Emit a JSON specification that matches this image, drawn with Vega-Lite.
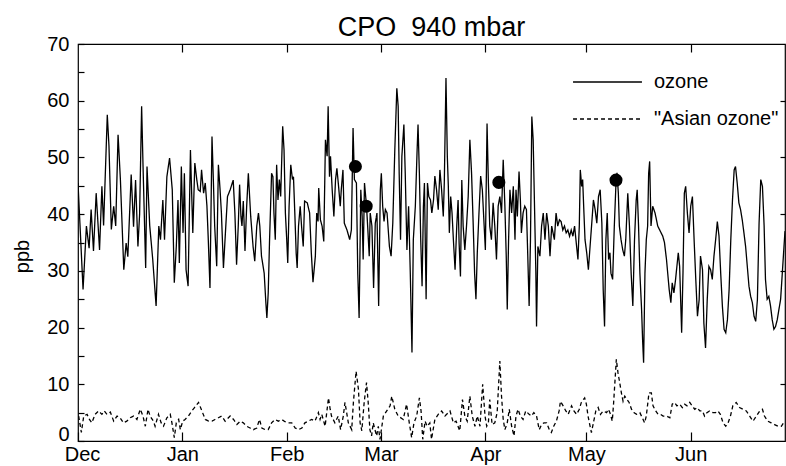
{
  "$schema": "https://vega.github.io/schema/vega-lite/v6.json",
  "width": 707,
  "height": 397,
  "autosize": "none",
  "padding": {"left": 78, "top": 44, "right": 1, "bottom": 25},
  "title": {"text": "CPO\u00a0\u00a0940 mbar", "font": "Liberation Sans", "fontSize": 27, "fontWeight": "normal", "color": "black", "anchor": "middle", "frame": "group", "baseline": "alphabetic", "offset": -29},
  "config": {
    "view": {"stroke": "black", "strokeWidth": 1.2},
    "axis": {"domain": false, "grid": false, "labelFont": "Liberation Sans", "labelFontSize": 20, "labelColor": "black", "tickColor": "black", "tickWidth": 1.2, "titleFont": "Liberation Sans", "titleFontSize": 20, "titleFontWeight": "normal", "titleColor": "black"},
    "legend": {"labelFont": "Liberation Sans", "labelFontSize": 20, "labelColor": "black"}
  },
  "datasets": {
    "lines": [
      {"series":"ozone","day":0.0,"ppb":45.5},{"series":"ozone","day":1.5,"ppb":26.7},{"series":"ozone","day":2.5,"ppb":37.9},{"series":"ozone","day":3.3,"ppb":34},{"series":"ozone","day":3.9,"ppb":40.8},{"series":"ozone","day":4.6,"ppb":33.5},{"series":"ozone","day":5.4,"ppb":43.7},{"series":"ozone","day":6.4,"ppb":33.7},{"series":"ozone","day":7.1,"ppb":44.9},{"series":"ozone","day":7.6,"ppb":38},{"series":"ozone","day":8.7,"ppb":57.5},{"series":"ozone","day":9.2,"ppb":52},{"series":"ozone","day":9.9,"ppb":37.3},{"series":"ozone","day":10.6,"ppb":41.4},{"series":"ozone","day":11.2,"ppb":37.9},{"series":"ozone","day":11.9,"ppb":54},{"series":"ozone","day":12.6,"ppb":46},{"series":"ozone","day":13.6,"ppb":30.2},{"series":"ozone","day":14.3,"ppb":34.9},{"series":"ozone","day":14.8,"ppb":32.5},{"series":"ozone","day":15.8,"ppb":47},{"series":"ozone","day":16.5,"ppb":37.8},{"series":"ozone","day":17.1,"ppb":46},{"series":"ozone","day":17.8,"ppb":34.3},{"series":"ozone","day":18.3,"ppb":40},{"series":"ozone","day":18.9,"ppb":59},{"series":"ozone","day":19.3,"ppb":48.9},{"series":"ozone","day":20.1,"ppb":30.5},{"series":"ozone","day":20.5,"ppb":48.4},{"series":"ozone","day":21.3,"ppb":38},{"series":"ozone","day":22.2,"ppb":32},{"series":"ozone","day":23.2,"ppb":23.8},{"series":"ozone","day":24.0,"ppb":37.9},{"series":"ozone","day":24.5,"ppb":35.5},{"series":"ozone","day":25.2,"ppb":42.5},{"series":"ozone","day":25.7,"ppb":35.5},{"series":"ozone","day":26.4,"ppb":46.6},{"series":"ozone","day":27.2,"ppb":49.9},{"series":"ozone","day":28.0,"ppb":44.3},{"series":"ozone","day":28.6,"ppb":27.9},{"series":"ozone","day":29.2,"ppb":34.3},{"series":"ozone","day":29.7,"ppb":42.5},{"series":"ozone","day":30.1,"ppb":31.4},{"series":"ozone","day":30.7,"ppb":48.4},{"series":"ozone","day":31.2,"ppb":36.7},{"series":"ozone","day":31.6,"ppb":47.2},{"series":"ozone","day":32.1,"ppb":30.2},{"series":"ozone","day":32.7,"ppb":27.3},{"series":"ozone","day":33.4,"ppb":51.3},{"series":"ozone","day":34.1,"ppb":36.7},{"series":"ozone","day":34.7,"ppb":49},{"series":"ozone","day":35.3,"ppb":46},{"series":"ozone","day":35.7,"ppb":44.3},{"series":"ozone","day":36.3,"ppb":44},{"series":"ozone","day":36.7,"ppb":47.8},{"series":"ozone","day":37.3,"ppb":43.7},{"series":"ozone","day":37.8,"ppb":45.5},{"series":"ozone","day":38.3,"ppb":41.4},{"series":"ozone","day":38.7,"ppb":35.5},{"series":"ozone","day":39.2,"ppb":27},{"series":"ozone","day":39.8,"ppb":53.7},{"series":"ozone","day":40.2,"ppb":46.1},{"series":"ozone","day":40.6,"ppb":37.9},{"series":"ozone","day":41.2,"ppb":30.8},{"series":"ozone","day":41.7,"ppb":48.7},{"series":"ozone","day":42.2,"ppb":44.3},{"series":"ozone","day":42.6,"ppb":40.2},{"series":"ozone","day":43.2,"ppb":30.5},{"series":"ozone","day":43.9,"ppb":37.9},{"series":"ozone","day":44.4,"ppb":43.1},{"series":"ozone","day":45.2,"ppb":44.3},{"series":"ozone","day":46.1,"ppb":46},{"series":"ozone","day":46.6,"ppb":40.2},{"series":"ozone","day":47.1,"ppb":31.1},{"series":"ozone","day":47.6,"ppb":37.9},{"series":"ozone","day":48.0,"ppb":45.2},{"series":"ozone","day":48.4,"ppb":39.6},{"series":"ozone","day":48.7,"ppb":37.9},{"series":"ozone","day":49.1,"ppb":42.3},{"series":"ozone","day":49.3,"ppb":39},{"series":"ozone","day":49.6,"ppb":33.5},{"series":"ozone","day":50.1,"ppb":41.4},{"series":"ozone","day":50.6,"ppb":47.2},{"series":"ozone","day":51.3,"ppb":39.6},{"series":"ozone","day":52.0,"ppb":34.3},{"series":"ozone","day":52.5,"ppb":31.7},{"series":"ozone","day":53.1,"ppb":37.9},{"series":"ozone","day":53.6,"ppb":40.2},{"series":"ozone","day":54.0,"ppb":37.9},{"series":"ozone","day":54.5,"ppb":32.6},{"series":"ozone","day":55.3,"ppb":29.6},{"series":"ozone","day":55.8,"ppb":24.4},{"series":"ozone","day":56.1,"ppb":21.7},{"series":"ozone","day":56.5,"ppb":26.1},{"series":"ozone","day":56.9,"ppb":35.5},{"series":"ozone","day":57.5,"ppb":47.2},{"series":"ozone","day":57.9,"ppb":46.6},{"series":"ozone","day":58.2,"ppb":40.2},{"series":"ozone","day":58.6,"ppb":35.5},{"series":"ozone","day":59.0,"ppb":48.7},{"series":"ozone","day":59.4,"ppb":42.5},{"series":"ozone","day":59.8,"ppb":46.1},{"series":"ozone","day":60.2,"ppb":43.1},{"series":"ozone","day":60.8,"ppb":55.5},{"series":"ozone","day":61.2,"ppb":51.3},{"series":"ozone","day":61.6,"ppb":40.2},{"series":"ozone","day":62.0,"ppb":35.5},{"series":"ozone","day":62.3,"ppb":31.4},{"series":"ozone","day":62.7,"ppb":41.4},{"series":"ozone","day":63.2,"ppb":48.7},{"series":"ozone","day":63.7,"ppb":46.1},{"series":"ozone","day":64.0,"ppb":46.6},{"series":"ozone","day":64.4,"ppb":40.2},{"series":"ozone","day":64.8,"ppb":33.2},{"series":"ozone","day":65.1,"ppb":30.5},{"series":"ozone","day":65.5,"ppb":37.9},{"series":"ozone","day":66.0,"ppb":41.4},{"series":"ozone","day":66.4,"ppb":37.9},{"series":"ozone","day":66.9,"ppb":34.3},{"series":"ozone","day":67.3,"ppb":42.3},{"series":"ozone","day":68.1,"ppb":42},{"series":"ozone","day":68.8,"ppb":40.2},{"series":"ozone","day":69.3,"ppb":33.2},{"series":"ozone","day":69.8,"ppb":28},{"series":"ozone","day":70.5,"ppb":32.6},{"series":"ozone","day":70.9,"ppb":40.2},{"series":"ozone","day":71.3,"ppb":38.7},{"series":"ozone","day":71.5,"ppb":44.6},{"series":"ozone","day":72.0,"ppb":39},{"series":"ozone","day":72.5,"ppb":37.9},{"series":"ozone","day":73.0,"ppb":35.2},{"series":"ozone","day":73.5,"ppb":53.1},{"series":"ozone","day":74.0,"ppb":50.2},{"series":"ozone","day":74.3,"ppb":59},{"series":"ozone","day":74.7,"ppb":46.6},{"series":"ozone","day":75.0,"ppb":50.2},{"series":"ozone","day":75.5,"ppb":44.3},{"series":"ozone","day":76.0,"ppb":39.6},{"series":"ozone","day":76.5,"ppb":46.1},{"series":"ozone","day":76.9,"ppb":48.1},{"series":"ozone","day":77.4,"ppb":44.9},{"series":"ozone","day":77.9,"ppb":41.4},{"series":"ozone","day":78.2,"ppb":44.3},{"series":"ozone","day":78.7,"ppb":47.8},{"series":"ozone","day":79.1,"ppb":38.4},{"series":"ozone","day":79.9,"ppb":37.2},{"series":"ozone","day":80.7,"ppb":35.5},{"series":"ozone","day":81.2,"ppb":37.2},{"series":"ozone","day":81.7,"ppb":55.2},{"series":"ozone","day":82.1,"ppb":46.1},{"series":"ozone","day":82.7,"ppb":45.5},{"series":"ozone","day":83.1,"ppb":29.6},{"series":"ozone","day":83.5,"ppb":21.7},{"series":"ozone","day":84.0,"ppb":44.3},{"series":"ozone","day":84.4,"ppb":39.6},{"series":"ozone","day":84.7,"ppb":32},{"series":"ozone","day":85.1,"ppb":45.5},{"series":"ozone","day":85.7,"ppb":41.4},{"series":"ozone","day":86.1,"ppb":37.2},{"series":"ozone","day":86.5,"ppb":32.6},{"series":"ozone","day":86.8,"ppb":40.2},{"series":"ozone","day":87.3,"ppb":37.9},{"series":"ozone","day":87.8,"ppb":27},{"series":"ozone","day":88.3,"ppb":38.4},{"series":"ozone","day":88.8,"ppb":40.2},{"series":"ozone","day":89.3,"ppb":23.8},{"series":"ozone","day":89.8,"ppb":44.3},{"series":"ozone","day":90.1,"ppb":47.2},{"series":"ozone","day":90.5,"ppb":41.4},{"series":"ozone","day":90.9,"ppb":38.7},{"series":"ozone","day":91.3,"ppb":40.8},{"series":"ozone","day":91.8,"ppb":40.2},{"series":"ozone","day":92.5,"ppb":34.3},{"series":"ozone","day":93.0,"ppb":32.6},{"series":"ozone","day":93.5,"ppb":38.4},{"series":"ozone","day":94.1,"ppb":51.3},{"series":"ozone","day":94.7,"ppb":62.2},{"series":"ozone","day":95.1,"ppb":59},{"series":"ozone","day":95.4,"ppb":47.2},{"series":"ozone","day":95.8,"ppb":35.5},{"series":"ozone","day":96.2,"ppb":50.2},{"series":"ozone","day":96.8,"ppb":55.8},{"series":"ozone","day":97.2,"ppb":47.2},{"series":"ozone","day":97.7,"ppb":33.7},{"series":"ozone","day":98.2,"ppb":41.4},{"series":"ozone","day":98.7,"ppb":29.6},{"series":"ozone","day":99.2,"ppb":15.6},{"series":"ozone","day":99.6,"ppb":35.5},{"series":"ozone","day":100.2,"ppb":41.4},{"series":"ozone","day":100.7,"ppb":50.8},{"series":"ozone","day":101.0,"ppb":55.8},{"series":"ozone","day":101.4,"ppb":47.2},{"series":"ozone","day":101.8,"ppb":35.5},{"series":"ozone","day":102.2,"ppb":27.3},{"series":"ozone","day":102.6,"ppb":41.4},{"series":"ozone","day":102.9,"ppb":45.5},{"series":"ozone","day":103.4,"ppb":25},{"series":"ozone","day":103.8,"ppb":45.5},{"series":"ozone","day":104.2,"ppb":43.1},{"series":"ozone","day":104.7,"ppb":42.5},{"series":"ozone","day":105.1,"ppb":40.2},{"series":"ozone","day":105.6,"ppb":42.5},{"series":"ozone","day":106.0,"ppb":46.7},{"series":"ozone","day":106.5,"ppb":44.3},{"series":"ozone","day":107.0,"ppb":40.8},{"series":"ozone","day":107.5,"ppb":47.8},{"series":"ozone","day":108.0,"ppb":44.3},{"series":"ozone","day":108.5,"ppb":39.6},{"series":"ozone","day":108.8,"ppb":45.5},{"series":"ozone","day":109.3,"ppb":64},{"series":"ozone","day":109.7,"ppb":50.2},{"series":"ozone","day":110.0,"ppb":44.9},{"series":"ozone","day":110.3,"ppb":36.7},{"series":"ozone","day":110.7,"ppb":43.1},{"series":"ozone","day":111.1,"ppb":40.2},{"series":"ozone","day":111.5,"ppb":35.5},{"series":"ozone","day":112.0,"ppb":30.2},{"series":"ozone","day":112.5,"ppb":37.9},{"series":"ozone","day":112.9,"ppb":42.5},{"series":"ozone","day":113.2,"ppb":34.9},{"series":"ozone","day":113.6,"ppb":29},{"series":"ozone","day":114.0,"ppb":46},{"series":"ozone","day":114.4,"ppb":37.9},{"series":"ozone","day":114.9,"ppb":33.7},{"series":"ozone","day":115.4,"ppb":37.9},{"series":"ozone","day":115.9,"ppb":43.1},{"series":"ozone","day":116.4,"ppb":53.1},{"series":"ozone","day":116.9,"ppb":47.2},{"series":"ozone","day":117.4,"ppb":37.9},{"series":"ozone","day":117.8,"ppb":29.6},{"series":"ozone","day":118.2,"ppb":25},{"series":"ozone","day":118.6,"ppb":33.2},{"series":"ozone","day":119.1,"ppb":40.2},{"series":"ozone","day":119.6,"ppb":46.7},{"series":"ozone","day":120.1,"ppb":44.3},{"series":"ozone","day":120.6,"ppb":38.4},{"series":"ozone","day":121.0,"ppb":33.7},{"series":"ozone","day":121.5,"ppb":56},{"series":"ozone","day":121.9,"ppb":45.5},{"series":"ozone","day":122.3,"ppb":37.9},{"series":"ozone","day":122.8,"ppb":35.5},{"series":"ozone","day":123.3,"ppb":42},{"series":"ozone","day":123.8,"ppb":37.9},{"series":"ozone","day":124.3,"ppb":32},{"series":"ozone","day":124.8,"ppb":41.4},{"series":"ozone","day":125.3,"ppb":43.1},{"series":"ozone","day":125.8,"ppb":40.2},{"series":"ozone","day":126.3,"ppb":49.6},{"series":"ozone","day":126.8,"ppb":41.4},{"series":"ozone","day":127.2,"ppb":32.6},{"series":"ozone","day":127.5,"ppb":23.2},{"series":"ozone","day":127.9,"ppb":35.5},{"series":"ozone","day":128.3,"ppb":44.3},{"series":"ozone","day":128.8,"ppb":40.2},{"series":"ozone","day":129.3,"ppb":44.9},{"series":"ozone","day":129.8,"ppb":35.5},{"series":"ozone","day":130.1,"ppb":44.3},{"series":"ozone","day":130.5,"ppb":39.6},{"series":"ozone","day":131.0,"ppb":47.5},{"series":"ozone","day":131.4,"ppb":42.5},{"series":"ozone","day":131.7,"ppb":36.7},{"series":"ozone","day":132.2,"ppb":40.2},{"series":"ozone","day":132.7,"ppb":41.4},{"series":"ozone","day":133.2,"ppb":40.8},{"series":"ozone","day":133.6,"ppb":32.6},{"series":"ozone","day":134.0,"ppb":23.8},{"series":"ozone","day":134.4,"ppb":35.5},{"series":"ozone","day":134.8,"ppb":57.2},{"series":"ozone","day":135.2,"ppb":53.1},{"series":"ozone","day":135.6,"ppb":41.4},{"series":"ozone","day":136.0,"ppb":29.6},{"series":"ozone","day":136.2,"ppb":20.2},{"series":"ozone","day":136.6,"ppb":34.3},{"series":"ozone","day":137.2,"ppb":32.6},{"series":"ozone","day":137.7,"ppb":37.9},{"series":"ozone","day":138.2,"ppb":40.2},{"series":"ozone","day":138.7,"ppb":35.5},{"series":"ozone","day":139.2,"ppb":40.2},{"series":"ozone","day":139.7,"ppb":37.9},{"series":"ozone","day":140.2,"ppb":32.6},{"series":"ozone","day":140.7,"ppb":37.9},{"series":"ozone","day":141.5,"ppb":35.5},{"series":"ozone","day":142.0,"ppb":40.2},{"series":"ozone","day":142.5,"ppb":37.9},{"series":"ozone","day":143.0,"ppb":39},{"series":"ozone","day":143.5,"ppb":38.7},{"series":"ozone","day":144.0,"ppb":37.2},{"series":"ozone","day":144.5,"ppb":37.9},{"series":"ozone","day":145.0,"ppb":36.7},{"series":"ozone","day":145.5,"ppb":37.2},{"series":"ozone","day":146.0,"ppb":36.1},{"series":"ozone","day":146.5,"ppb":37.2},{"series":"ozone","day":147.0,"ppb":36.1},{"series":"ozone","day":147.5,"ppb":37.9},{"series":"ozone","day":148.0,"ppb":34.9},{"series":"ozone","day":148.5,"ppb":32},{"series":"ozone","day":148.9,"ppb":37.9},{"series":"ozone","day":149.2,"ppb":47.8},{"series":"ozone","day":149.6,"ppb":44.9},{"series":"ozone","day":149.9,"ppb":46.1},{"series":"ozone","day":150.2,"ppb":41.4},{"series":"ozone","day":150.6,"ppb":35.5},{"series":"ozone","day":151.1,"ppb":33.2},{"series":"ozone","day":151.6,"ppb":30.2},{"series":"ozone","day":152.1,"ppb":34.3},{"series":"ozone","day":152.6,"ppb":38.4},{"series":"ozone","day":153.1,"ppb":42.5},{"series":"ozone","day":153.6,"ppb":40.8},{"series":"ozone","day":154.1,"ppb":38.4},{"series":"ozone","day":154.6,"ppb":43.1},{"series":"ozone","day":155.1,"ppb":44.3},{"series":"ozone","day":155.6,"ppb":38.4},{"series":"ozone","day":156.0,"ppb":26.7},{"series":"ozone","day":156.4,"ppb":20.2},{"series":"ozone","day":156.8,"ppb":35.5},{"series":"ozone","day":157.2,"ppb":40.2},{"series":"ozone","day":157.6,"ppb":32},{"series":"ozone","day":158.0,"ppb":33.2},{"series":"ozone","day":158.3,"ppb":29.6},{"series":"ozone","day":158.8,"ppb":28.5},{"series":"ozone","day":159.3,"ppb":37.9},{"series":"ozone","day":159.8,"ppb":45.5},{"series":"ozone","day":160.1,"ppb":47.3},{"series":"ozone","day":160.5,"ppb":43.7},{"series":"ozone","day":160.8,"ppb":37.9},{"series":"ozone","day":161.3,"ppb":35.5},{"series":"ozone","day":161.8,"ppb":33.7},{"series":"ozone","day":162.3,"ppb":32.6},{"series":"ozone","day":162.7,"ppb":35.5},{"series":"ozone","day":163.3,"ppb":43.7},{"series":"ozone","day":163.8,"ppb":37.9},{"series":"ozone","day":164.3,"ppb":29.6},{"series":"ozone","day":164.8,"ppb":23.8},{"series":"ozone","day":165.3,"ppb":35.5},{"series":"ozone","day":165.8,"ppb":42.5},{"series":"ozone","day":166.1,"ppb":44.3},{"series":"ozone","day":166.5,"ppb":37.9},{"series":"ozone","day":166.9,"ppb":29.6},{"series":"ozone","day":167.4,"ppb":23.2},{"series":"ozone","day":167.7,"ppb":17.9},{"series":"ozone","day":168.0,"ppb":13.8},{"series":"ozone","day":168.4,"ppb":29.6},{"series":"ozone","day":168.8,"ppb":35.5},{"series":"ozone","day":169.2,"ppb":37.9},{"series":"ozone","day":169.5,"ppb":47.2},{"series":"ozone","day":169.8,"ppb":49.3},{"series":"ozone","day":170.2,"ppb":37.9},{"series":"ozone","day":170.7,"ppb":41.4},{"series":"ozone","day":171.4,"ppb":40.2},{"series":"ozone","day":172.2,"ppb":37.9},{"series":"ozone","day":173.2,"ppb":36.7},{"series":"ozone","day":173.7,"ppb":36.1},{"series":"ozone","day":174.2,"ppb":35},{"series":"ozone","day":174.8,"ppb":32},{"series":"ozone","day":175.6,"ppb":26.7},{"series":"ozone","day":176.1,"ppb":24.4},{"series":"ozone","day":176.5,"ppb":27.9},{"series":"ozone","day":177.0,"ppb":26.1},{"series":"ozone","day":177.5,"ppb":28.5},{"series":"ozone","day":178.3,"ppb":33.2},{"series":"ozone","day":178.7,"ppb":30.8},{"series":"ozone","day":179.3,"ppb":19.1},{"series":"ozone","day":179.7,"ppb":29.6},{"series":"ozone","day":180.1,"ppb":43.7},{"series":"ozone","day":180.5,"ppb":44.9},{"series":"ozone","day":181.0,"ppb":40.2},{"series":"ozone","day":181.5,"ppb":36.7},{"series":"ozone","day":182.0,"ppb":41.4},{"series":"ozone","day":182.5,"ppb":43.1},{"series":"ozone","day":183.0,"ppb":35.5},{"series":"ozone","day":183.5,"ppb":28.5},{"series":"ozone","day":184.0,"ppb":22},{"series":"ozone","day":184.5,"ppb":24.9},{"series":"ozone","day":184.9,"ppb":32.6},{"series":"ozone","day":185.5,"ppb":30.2},{"series":"ozone","day":185.9,"ppb":20.8},{"series":"ozone","day":186.4,"ppb":16.4},{"series":"ozone","day":186.9,"ppb":24.9},{"series":"ozone","day":187.4,"ppb":30.8},{"series":"ozone","day":187.9,"ppb":30.2},{"series":"ozone","day":188.4,"ppb":28.5},{"series":"ozone","day":188.9,"ppb":32.6},{"series":"ozone","day":189.4,"ppb":35.5},{"series":"ozone","day":189.9,"ppb":38.7},{"series":"ozone","day":190.4,"ppb":36.1},{"series":"ozone","day":190.9,"ppb":29.6},{"series":"ozone","day":191.4,"ppb":23.8},{"series":"ozone","day":191.9,"ppb":19.7},{"series":"ozone","day":192.4,"ppb":19.1},{"series":"ozone","day":192.9,"ppb":21.4},{"series":"ozone","day":193.4,"ppb":26.7},{"series":"ozone","day":193.9,"ppb":35.5},{"series":"ozone","day":194.4,"ppb":42.5},{"series":"ozone","day":194.9,"ppb":47.8},{"series":"ozone","day":195.3,"ppb":48.4},{"series":"ozone","day":195.8,"ppb":45.5},{"series":"ozone","day":196.3,"ppb":42},{"series":"ozone","day":196.8,"ppb":40.8},{"series":"ozone","day":197.3,"ppb":39},{"series":"ozone","day":197.8,"ppb":36.7},{"series":"ozone","day":198.3,"ppb":34.3},{"series":"ozone","day":198.8,"ppb":30.8},{"series":"ozone","day":199.3,"ppb":27.3},{"series":"ozone","day":199.8,"ppb":25.5},{"series":"ozone","day":200.3,"ppb":24.4},{"series":"ozone","day":200.8,"ppb":22},{"series":"ozone","day":201.3,"ppb":21.1},{"series":"ozone","day":201.8,"ppb":24.9},{"series":"ozone","day":202.3,"ppb":38.4},{"series":"ozone","day":202.8,"ppb":46.1},{"series":"ozone","day":203.3,"ppb":44.9},{"series":"ozone","day":203.8,"ppb":37.9},{"series":"ozone","day":204.2,"ppb":28.5},{"series":"ozone","day":204.7,"ppb":25},{"series":"ozone","day":205.2,"ppb":25.5},{"series":"ozone","day":205.7,"ppb":23.8},{"series":"ozone","day":206.2,"ppb":21.4},{"series":"ozone","day":206.7,"ppb":19.7},{"series":"ozone","day":207.2,"ppb":20.2},{"series":"ozone","day":207.7,"ppb":21.4},{"series":"ozone","day":208.2,"ppb":23.2},{"series":"ozone","day":208.7,"ppb":25},{"series":"ozone","day":209.2,"ppb":29.6},{"series":"ozone","day":209.7,"ppb":34.3},{"series":"ozone","day":210.0,"ppb":37},
      {"series":"\"Asian ozone\"","day":0.2,"ppb":4.4},{"series":"\"Asian ozone\"","day":1.0,"ppb":1.5},{"series":"\"Asian ozone\"","day":1.7,"ppb":4.4},{"series":"\"Asian ozone\"","day":2.7,"ppb":4.7},{"series":"\"Asian ozone\"","day":3.4,"ppb":3.8},{"series":"\"Asian ozone\"","day":4.1,"ppb":3.2},{"series":"\"Asian ozone\"","day":5.1,"ppb":4.7},{"series":"\"Asian ozone\"","day":6.1,"ppb":5.3},{"series":"\"Asian ozone\"","day":7.1,"ppb":4.7},{"series":"\"Asian ozone\"","day":7.8,"ppb":5.3},{"series":"\"Asian ozone\"","day":8.6,"ppb":4.7},{"series":"\"Asian ozone\"","day":9.6,"ppb":5.1},{"series":"\"Asian ozone\"","day":10.6,"ppb":3.5},{"series":"\"Asian ozone\"","day":11.6,"ppb":4.4},{"series":"\"Asian ozone\"","day":12.5,"ppb":4.1},{"series":"\"Asian ozone\"","day":13.5,"ppb":3.2},{"series":"\"Asian ozone\"","day":14.5,"ppb":3.5},{"series":"\"Asian ozone\"","day":15.5,"ppb":4.1},{"series":"\"Asian ozone\"","day":16.5,"ppb":4.4},{"series":"\"Asian ozone\"","day":17.5,"ppb":3.8},{"series":"\"Asian ozone\"","day":18.5,"ppb":5.6},{"series":"\"Asian ozone\"","day":19.3,"ppb":4.4},{"series":"\"Asian ozone\"","day":20.0,"ppb":2.6},{"series":"\"Asian ozone\"","day":20.8,"ppb":5.6},{"series":"\"Asian ozone\"","day":21.4,"ppb":4.4},{"series":"\"Asian ozone\"","day":22.4,"ppb":3.5},{"series":"\"Asian ozone\"","day":22.9,"ppb":2.6},{"series":"\"Asian ozone\"","day":23.9,"ppb":4.7},{"series":"\"Asian ozone\"","day":24.7,"ppb":3.2},{"series":"\"Asian ozone\"","day":25.4,"ppb":2.6},{"series":"\"Asian ozone\"","day":26.4,"ppb":4.1},{"series":"\"Asian ozone\"","day":27.4,"ppb":4.7},{"series":"\"Asian ozone\"","day":27.9,"ppb":3.2},{"series":"\"Asian ozone\"","day":28.6,"ppb":0.6},{"series":"\"Asian ozone\"","day":29.2,"ppb":3.2},{"series":"\"Asian ozone\"","day":29.9,"ppb":3.8},{"series":"\"Asian ozone\"","day":30.4,"ppb":2.0},{"series":"\"Asian ozone\"","day":31.1,"ppb":3.5},{"series":"\"Asian ozone\"","day":31.8,"ppb":3.8},{"series":"\"Asian ozone\"","day":32.8,"ppb":4.4},{"series":"\"Asian ozone\"","day":33.8,"ppb":5.3},{"series":"\"Asian ozone\"","day":34.6,"ppb":5.9},{"series":"\"Asian ozone\"","day":35.8,"ppb":6.8},{"series":"\"Asian ozone\"","day":36.8,"ppb":5.3},{"series":"\"Asian ozone\"","day":37.8,"ppb":3.8},{"series":"\"Asian ozone\"","day":38.8,"ppb":3.5},{"series":"\"Asian ozone\"","day":39.8,"ppb":3.5},{"series":"\"Asian ozone\"","day":40.7,"ppb":3.8},{"series":"\"Asian ozone\"","day":41.7,"ppb":4.1},{"series":"\"Asian ozone\"","day":42.7,"ppb":4.4},{"series":"\"Asian ozone\"","day":43.7,"ppb":3.5},{"series":"\"Asian ozone\"","day":45.2,"ppb":4.4},{"series":"\"Asian ozone\"","day":46.2,"ppb":3.8},{"series":"\"Asian ozone\"","day":47.2,"ppb":2.9},{"series":"\"Asian ozone\"","day":48.2,"ppb":3.5},{"series":"\"Asian ozone\"","day":49.1,"ppb":3.2},{"series":"\"Asian ozone\"","day":50.1,"ppb":2.6},{"series":"\"Asian ozone\"","day":51.1,"ppb":2.3},{"series":"\"Asian ozone\"","day":52.1,"ppb":2.0},{"series":"\"Asian ozone\"","day":53.1,"ppb":2.3},{"series":"\"Asian ozone\"","day":53.9,"ppb":3.8},{"series":"\"Asian ozone\"","day":54.6,"ppb":2.3},{"series":"\"Asian ozone\"","day":55.6,"ppb":2.0},{"series":"\"Asian ozone\"","day":56.5,"ppb":2.0},{"series":"\"Asian ozone\"","day":57.5,"ppb":3.2},{"series":"\"Asian ozone\"","day":58.5,"ppb":3.8},{"series":"\"Asian ozone\"","day":59.5,"ppb":3.5},{"series":"\"Asian ozone\"","day":60.5,"ppb":3.8},{"series":"\"Asian ozone\"","day":61.5,"ppb":3.4},{"series":"\"Asian ozone\"","day":62.5,"ppb":3.2},{"series":"\"Asian ozone\"","day":63.5,"ppb":3.2},{"series":"\"Asian ozone\"","day":64.5,"ppb":2.3},{"series":"\"Asian ozone\"","day":65.5,"ppb":2.0},{"series":"\"Asian ozone\"","day":66.5,"ppb":2.3},{"series":"\"Asian ozone\"","day":67.4,"ppb":3.2},{"series":"\"Asian ozone\"","day":68.4,"ppb":3.5},{"series":"\"Asian ozone\"","day":69.4,"ppb":3.8},{"series":"\"Asian ozone\"","day":70.4,"ppb":3.5},{"series":"\"Asian ozone\"","day":71.4,"ppb":5.0},{"series":"\"Asian ozone\"","day":71.9,"ppb":3.8},{"series":"\"Asian ozone\"","day":72.4,"ppb":4.7},{"series":"\"Asian ozone\"","day":73.4,"ppb":2.6},{"series":"\"Asian ozone\"","day":74.4,"ppb":7.6},{"series":"\"Asian ozone\"","day":74.9,"ppb":5.6},{"series":"\"Asian ozone\"","day":75.3,"ppb":4.4},{"series":"\"Asian ozone\"","day":76.3,"ppb":3.2},{"series":"\"Asian ozone\"","day":77.3,"ppb":4.4},{"series":"\"Asian ozone\"","day":78.0,"ppb":2.0},{"series":"\"Asian ozone\"","day":78.8,"ppb":4.4},{"series":"\"Asian ozone\"","day":79.3,"ppb":6.8},{"series":"\"Asian ozone\"","day":80.3,"ppb":3.2},{"series":"\"Asian ozone\"","day":81.3,"ppb":2.0},{"series":"\"Asian ozone\"","day":81.8,"ppb":6.8},{"series":"\"Asian ozone\"","day":82.6,"ppb":12.3},{"series":"\"Asian ozone\"","day":83.3,"ppb":9.1},{"series":"\"Asian ozone\"","day":83.8,"ppb":3.2},{"series":"\"Asian ozone\"","day":84.3,"ppb":1.8},{"series":"\"Asian ozone\"","day":85.0,"ppb":6.8},{"series":"\"Asian ozone\"","day":85.7,"ppb":10.3},{"series":"\"Asian ozone\"","day":86.2,"ppb":6.8},{"series":"\"Asian ozone\"","day":86.7,"ppb":2.0},{"series":"\"Asian ozone\"","day":87.2,"ppb":0.9},{"series":"\"Asian ozone\"","day":87.7,"ppb":3.2},{"series":"\"Asian ozone\"","day":88.2,"ppb":2.0},{"series":"\"Asian ozone\"","day":88.7,"ppb":0.9},{"series":"\"Asian ozone\"","day":89.2,"ppb":2.6},{"series":"\"Asian ozone\"","day":89.7,"ppb":0.3},{"series":"\"Asian ozone\"","day":90.7,"ppb":4.4},{"series":"\"Asian ozone\"","day":91.7,"ppb":5.3},{"series":"\"Asian ozone\"","day":92.7,"ppb":6.2},{"series":"\"Asian ozone\"","day":93.2,"ppb":7.9},{"series":"\"Asian ozone\"","day":94.1,"ppb":5.6},{"series":"\"Asian ozone\"","day":95.1,"ppb":4.4},{"series":"\"Asian ozone\"","day":96.6,"ppb":3.8},{"series":"\"Asian ozone\"","day":97.6,"ppb":6.5},{"series":"\"Asian ozone\"","day":98.4,"ppb":3.2},{"series":"\"Asian ozone\"","day":99.1,"ppb":0.6},{"series":"\"Asian ozone\"","day":99.8,"ppb":3.2},{"series":"\"Asian ozone\"","day":100.6,"ppb":4.4},{"series":"\"Asian ozone\"","day":101.4,"ppb":7.6},{"series":"\"Asian ozone\"","day":101.9,"ppb":5.3},{"series":"\"Asian ozone\"","day":102.4,"ppb":0.3},{"series":"\"Asian ozone\"","day":103.1,"ppb":3.5},{"series":"\"Asian ozone\"","day":103.7,"ppb":2.6},{"series":"\"Asian ozone\"","day":104.5,"ppb":3.2},{"series":"\"Asian ozone\"","day":105.0,"ppb":0.3},{"series":"\"Asian ozone\"","day":106.0,"ppb":3.8},{"series":"\"Asian ozone\"","day":107.0,"ppb":4.7},{"series":"\"Asian ozone\"","day":108.0,"ppb":5.3},{"series":"\"Asian ozone\"","day":109.0,"ppb":4.4},{"series":"\"Asian ozone\"","day":110.0,"ppb":5.0},{"series":"\"Asian ozone\"","day":110.5,"ppb":5.3},{"series":"\"Asian ozone\"","day":111.5,"ppb":3.2},{"series":"\"Asian ozone\"","day":112.3,"ppb":3.5},{"series":"\"Asian ozone\"","day":113.4,"ppb":1.8},{"series":"\"Asian ozone\"","day":114.2,"ppb":7.3},{"series":"\"Asian ozone\"","day":114.9,"ppb":4.4},{"series":"\"Asian ozone\"","day":115.6,"ppb":3.5},{"series":"\"Asian ozone\"","day":116.4,"ppb":7.9},{"series":"\"Asian ozone\"","day":117.1,"ppb":4.4},{"series":"\"Asian ozone\"","day":117.9,"ppb":2.6},{"series":"\"Asian ozone\"","day":118.6,"ppb":4.4},{"series":"\"Asian ozone\"","day":119.4,"ppb":2.6},{"series":"\"Asian ozone\"","day":120.2,"ppb":10.0},{"series":"\"Asian ozone\"","day":120.9,"ppb":4.4},{"series":"\"Asian ozone\"","day":121.4,"ppb":2.6},{"series":"\"Asian ozone\"","day":121.9,"ppb":3.2},{"series":"\"Asian ozone\"","day":122.3,"ppb":7.3},{"series":"\"Asian ozone\"","day":123.0,"ppb":2.9},{"series":"\"Asian ozone\"","day":123.8,"ppb":3.2},{"series":"\"Asian ozone\"","day":124.5,"ppb":5.0},{"series":"\"Asian ozone\"","day":125.3,"ppb":14.1},{"series":"\"Asian ozone\"","day":125.8,"ppb":7.9},{"series":"\"Asian ozone\"","day":126.3,"ppb":3.8},{"series":"\"Asian ozone\"","day":126.8,"ppb":2.0},{"series":"\"Asian ozone\"","day":127.5,"ppb":3.2},{"series":"\"Asian ozone\"","day":128.1,"ppb":5.6},{"series":"\"Asian ozone\"","day":128.8,"ppb":2.6},{"series":"\"Asian ozone\"","day":129.5,"ppb":0.9},{"series":"\"Asian ozone\"","day":130.1,"ppb":4.4},{"series":"\"Asian ozone\"","day":130.7,"ppb":5.6},{"series":"\"Asian ozone\"","day":131.4,"ppb":4.4},{"series":"\"Asian ozone\"","day":132.2,"ppb":3.8},{"series":"\"Asian ozone\"","day":133.0,"ppb":5.3},{"series":"\"Asian ozone\"","day":134.0,"ppb":4.7},{"series":"\"Asian ozone\"","day":134.7,"ppb":4.4},{"series":"\"Asian ozone\"","day":135.4,"ppb":5.0},{"series":"\"Asian ozone\"","day":136.2,"ppb":4.4},{"series":"\"Asian ozone\"","day":137.0,"ppb":2.0},{"series":"\"Asian ozone\"","day":137.7,"ppb":2.9},{"series":"\"Asian ozone\"","day":138.4,"ppb":3.2},{"series":"\"Asian ozone\"","day":139.2,"ppb":3.2},{"series":"\"Asian ozone\"","day":140.0,"ppb":2.0},{"series":"\"Asian ozone\"","day":140.6,"ppb":1.5},{"series":"\"Asian ozone\"","day":141.3,"ppb":2.6},{"series":"\"Asian ozone\"","day":142.1,"ppb":3.5},{"series":"\"Asian ozone\"","day":142.9,"ppb":5.3},{"series":"\"Asian ozone\"","day":143.3,"ppb":7.0},{"series":"\"Asian ozone\"","day":144.1,"ppb":6.2},{"series":"\"Asian ozone\"","day":144.9,"ppb":5.3},{"series":"\"Asian ozone\"","day":145.6,"ppb":4.7},{"series":"\"Asian ozone\"","day":146.6,"ppb":6.2},{"series":"\"Asian ozone\"","day":147.3,"ppb":5.3},{"series":"\"Asian ozone\"","day":148.1,"ppb":4.7},{"series":"\"Asian ozone\"","day":148.9,"ppb":5.6},{"series":"\"Asian ozone\"","day":149.5,"ppb":6.8},{"series":"\"Asian ozone\"","day":150.5,"ppb":7.6},{"series":"\"Asian ozone\"","day":151.0,"ppb":6.5},{"series":"\"Asian ozone\"","day":151.5,"ppb":4.4},{"series":"\"Asian ozone\"","day":152.0,"ppb":2.9},{"series":"\"Asian ozone\"","day":152.5,"ppb":1.5},{"series":"\"Asian ozone\"","day":153.2,"ppb":3.5},{"series":"\"Asian ozone\"","day":153.8,"ppb":5.3},{"series":"\"Asian ozone\"","day":154.5,"ppb":5.9},{"series":"\"Asian ozone\"","day":155.2,"ppb":4.7},{"series":"\"Asian ozone\"","day":156.0,"ppb":5.3},{"series":"\"Asian ozone\"","day":157.0,"ppb":5.0},{"series":"\"Asian ozone\"","day":157.5,"ppb":5.6},{"series":"\"Asian ozone\"","day":158.0,"ppb":5.0},{"series":"\"Asian ozone\"","day":158.7,"ppb":3.5},{"series":"\"Asian ozone\"","day":159.1,"ppb":6.8},{"series":"\"Asian ozone\"","day":159.9,"ppb":14.4},{"series":"\"Asian ozone\"","day":160.4,"ppb":12.0},{"series":"\"Asian ozone\"","day":160.9,"ppb":10.3},{"series":"\"Asian ozone\"","day":161.4,"ppb":8.5},{"series":"\"Asian ozone\"","day":161.9,"ppb":7.0},{"series":"\"Asian ozone\"","day":162.4,"ppb":7.9},{"series":"\"Asian ozone\"","day":163.1,"ppb":7.3},{"series":"\"Asian ozone\"","day":163.7,"ppb":6.8},{"series":"\"Asian ozone\"","day":164.4,"ppb":5.6},{"series":"\"Asian ozone\"","day":165.1,"ppb":5.0},{"series":"\"Asian ozone\"","day":165.9,"ppb":4.7},{"series":"\"Asian ozone\"","day":166.9,"ppb":5.0},{"series":"\"Asian ozone\"","day":167.6,"ppb":4.1},{"series":"\"Asian ozone\"","day":168.3,"ppb":3.2},{"series":"\"Asian ozone\"","day":168.8,"ppb":4.4},{"series":"\"Asian ozone\"","day":169.6,"ppb":8.5},{"series":"\"Asian ozone\"","day":170.3,"ppb":8.5},{"series":"\"Asian ozone\"","day":170.8,"ppb":6.2},{"series":"\"Asian ozone\"","day":171.6,"ppb":5.3},{"series":"\"Asian ozone\"","day":172.3,"ppb":4.7},{"series":"\"Asian ozone\"","day":173.0,"ppb":4.7},{"series":"\"Asian ozone\"","day":173.8,"ppb":4.4},{"series":"\"Asian ozone\"","day":174.8,"ppb":4.4},{"series":"\"Asian ozone\"","day":175.8,"ppb":4.1},{"series":"\"Asian ozone\"","day":176.5,"ppb":6.5},{"series":"\"Asian ozone\"","day":177.2,"ppb":6.8},{"series":"\"Asian ozone\"","day":177.9,"ppb":6.2},{"series":"\"Asian ozone\"","day":178.7,"ppb":6.5},{"series":"\"Asian ozone\"","day":179.5,"ppb":5.9},{"series":"\"Asian ozone\"","day":180.2,"ppb":6.5},{"series":"\"Asian ozone\"","day":180.9,"ppb":6.2},{"series":"\"Asian ozone\"","day":181.7,"ppb":6.8},{"series":"\"Asian ozone\"","day":182.4,"ppb":6.2},{"series":"\"Asian ozone\"","day":183.2,"ppb":5.6},{"series":"\"Asian ozone\"","day":183.9,"ppb":5.9},{"series":"\"Asian ozone\"","day":184.7,"ppb":5.3},{"series":"\"Asian ozone\"","day":185.5,"ppb":5.3},{"series":"\"Asian ozone\"","day":186.1,"ppb":4.4},{"series":"\"Asian ozone\"","day":186.8,"ppb":5.0},{"series":"\"Asian ozone\"","day":187.6,"ppb":5.3},{"series":"\"Asian ozone\"","day":188.6,"ppb":5.0},{"series":"\"Asian ozone\"","day":189.4,"ppb":5.0},{"series":"\"Asian ozone\"","day":190.1,"ppb":5.3},{"series":"\"Asian ozone\"","day":190.8,"ppb":4.7},{"series":"\"Asian ozone\"","day":191.6,"ppb":3.2},{"series":"\"Asian ozone\"","day":192.4,"ppb":2.6},{"series":"\"Asian ozone\"","day":193.1,"ppb":3.2},{"series":"\"Asian ozone\"","day":193.8,"ppb":4.4},{"series":"\"Asian ozone\"","day":194.5,"ppb":6.2},{"series":"\"Asian ozone\"","day":195.5,"ppb":6.8},{"series":"\"Asian ozone\"","day":196.5,"ppb":5.9},{"series":"\"Asian ozone\"","day":197.5,"ppb":5.6},{"series":"\"Asian ozone\"","day":198.5,"ppb":5.3},{"series":"\"Asian ozone\"","day":199.5,"ppb":4.4},{"series":"\"Asian ozone\"","day":200.5,"ppb":3.5},{"series":"\"Asian ozone\"","day":201.5,"ppb":4.4},{"series":"\"Asian ozone\"","day":202.5,"ppb":5.3},{"series":"\"Asian ozone\"","day":203.3,"ppb":5.6},{"series":"\"Asian ozone\"","day":203.9,"ppb":4.4},{"series":"\"Asian ozone\"","day":204.9,"ppb":3.5},{"series":"\"Asian ozone\"","day":205.9,"ppb":3.2},{"series":"\"Asian ozone\"","day":206.9,"ppb":2.9},{"series":"\"Asian ozone\"","day":207.9,"ppb":2.6},{"series":"\"Asian ozone\"","day":208.9,"ppb":2.6},{"series":"\"Asian ozone\"","day":209.9,"ppb":3.5}
    ],
    "dots": [
      {"day": 82.4, "ppb": 48.4},
      {"day": 85.6, "ppb": 41.4},
      {"day": 125.0, "ppb": 45.6},
      {"day": 159.8, "ppb": 46.0}
    ]
  },
  "layer": [
    {
      "data": {"name": "lines"},
      "mark": {"type": "line", "color": "black", "strokeWidth": 1.3, "clip": true},
      "encoding": {
        "x": {"field": "day", "type": "quantitative",
          "scale": {"domain": [0, 210], "nice": false, "zero": false},
          "axis": {"orient": "bottom", "title": null, "values": [0, 31, 62, 90, 121, 151, 182],
            "labelExpr": "['Dec','Jan','Feb','Mar','Apr','May','Jun'][indexof([0,31,62,90,121,151,182], datum.value)]",
            "tickSize": -9, "labelPadding": 12, "labelFlush": false, "labelOverlap": false,
            "labelOffset": {"condition": {"test": "datum.value === 0", "value": 4}, "value": 0}}},
        "y": {"field": "ppb", "type": "quantitative",
          "scale": {"domain": [0, 70], "nice": false},
          "axis": {"orient": "left", "title": "ppb", "titleX": -56, "titleY": 212, "titleBaseline": "middle",
            "values": [0, 5, 10, 15, 20, 25, 30, 35, 40, 45, 50, 55, 60, 65, 70],
            "labelExpr": "datum.value % 10 === 0 ? datum.label : ''",
            "tickSize": -6, "labelPadding": 15, "labelOverlap": false,
            "labelOffset": {"condition": {"test": "datum.value === 0", "value": -7}, "value": 0}}},
        "strokeDash": {"field": "series", "type": "nominal",
          "scale": {"domain": ["ozone", "\"Asian ozone\""], "range": [[1, 0], [4, 3]]},
          "legend": {"title": null, "orient": "none", "legendX": 519.5, "legendY": 28, "padding": 0,
            "symbolType": "M-5,0H5", "symbolSize": 190, "symbolStrokeColor": "black", "symbolStrokeWidth": 1.3,
            "labelOffset": 36.5, "rowPadding": 17}}
      }
    },
    {
      "data": {"name": "dots"},
      "mark": {"type": "circle", "color": "black", "opacity": 1, "size": 170},
      "encoding": {
        "x": {"field": "day", "type": "quantitative",
          "scale": {"domain": [0, 210], "nice": false, "zero": false},
          "axis": {"orient": "top", "title": null, "labels": false, "values": [31, 62, 90, 121, 151, 182], "tickSize": -8, "minExtent": 0}},
        "y": {"field": "ppb", "type": "quantitative",
          "scale": {"domain": [0, 70], "nice": false},
          "axis": {"orient": "right", "title": null, "labels": false, "values": [10, 20, 30, 40, 50, 60], "tickSize": -5, "minExtent": 0}}
      }
    }
  ],
  "resolve": {"scale": {"x": "independent", "y": "independent"}}
}
